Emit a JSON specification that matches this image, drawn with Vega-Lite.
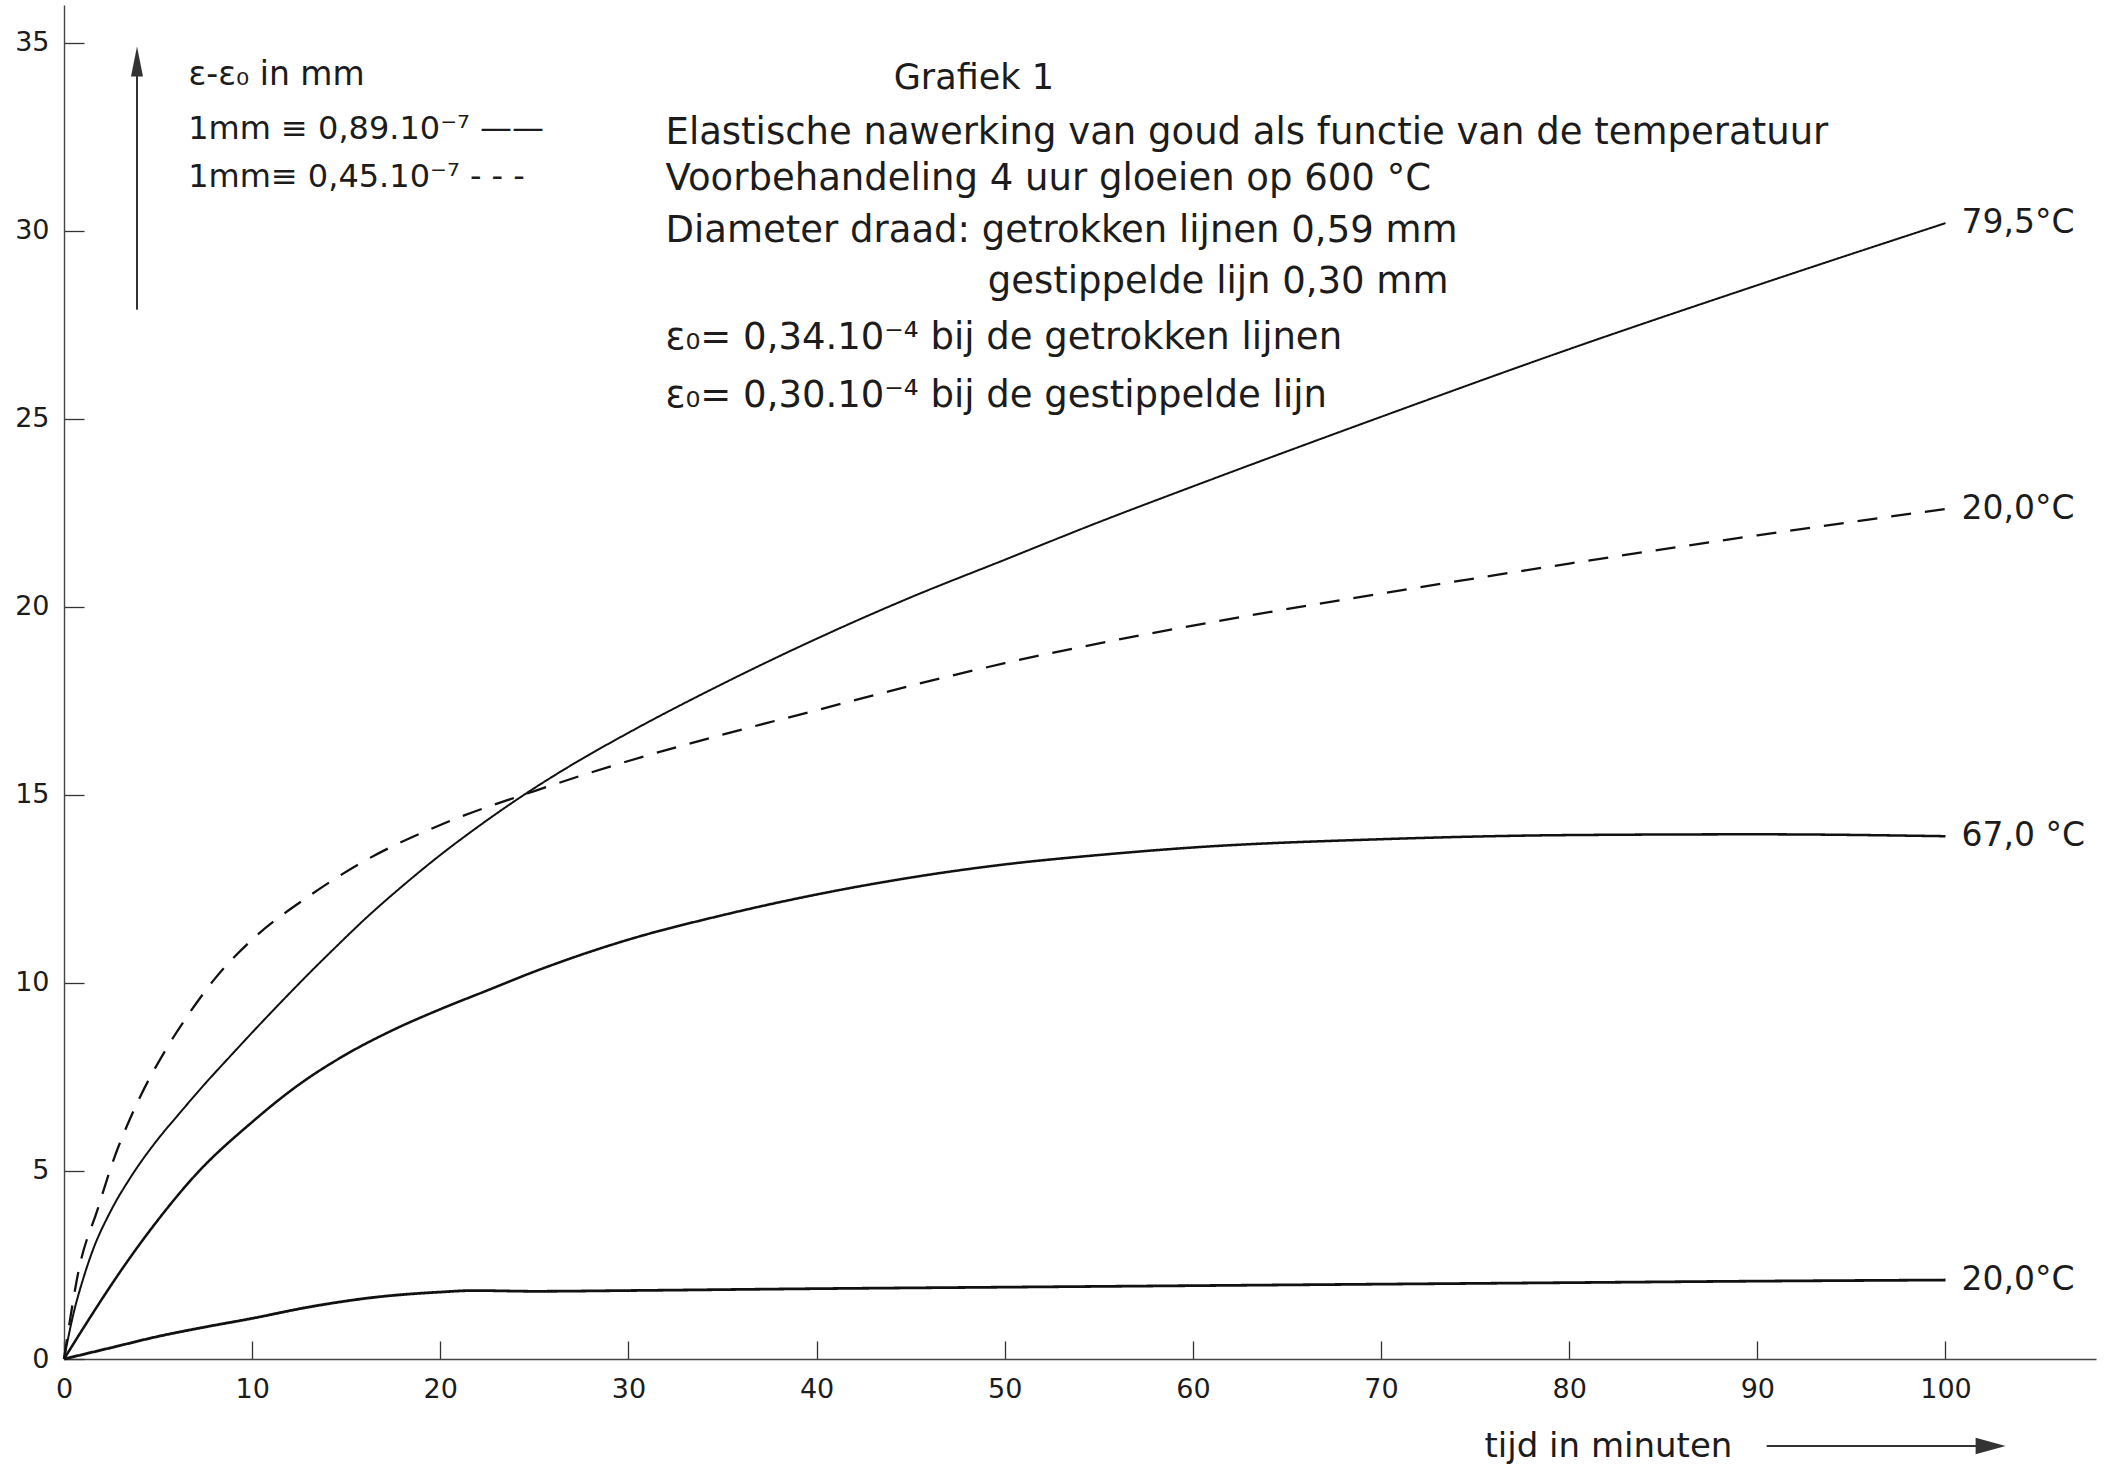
{
  "$schema": "https://vega.github.io/schema/vega-lite/v6.json",
  "width": 2032,
  "height": 1354,
  "autosize": {"type": "none"},
  "padding": {"left": 64, "top": 5, "right": 10, "bottom": 111},
  "background": "white",
  "config": {
    "view": {"stroke": null},
    "font": "DejaVu Sans",
    "text": {"font": "DejaVu Sans", "color": "#1c1c1c", "fontWeight": "normal"}
  },
  "datasets": {
    "krommen": [
      {"lijn": "79,5 getrokken", "temperatuur": "79,5°C", "t": 0, "v": 0},
      {"lijn": "79,5 getrokken", "temperatuur": "79,5°C", "t": 0.5, "v": 1.2},
      {"lijn": "79,5 getrokken", "temperatuur": "79,5°C", "t": 1, "v": 2.1},
      {"lijn": "79,5 getrokken", "temperatuur": "79,5°C", "t": 1.5, "v": 2.85},
      {"lijn": "79,5 getrokken", "temperatuur": "79,5°C", "t": 2.5, "v": 3.95},
      {"lijn": "79,5 getrokken", "temperatuur": "79,5°C", "t": 3.5, "v": 4.8},
      {"lijn": "79,5 getrokken", "temperatuur": "79,5°C", "t": 5, "v": 5.85},
      {"lijn": "79,5 getrokken", "temperatuur": "79,5°C", "t": 6, "v": 6.45},
      {"lijn": "79,5 getrokken", "temperatuur": "79,5°C", "t": 7.5, "v": 7.32},
      {"lijn": "79,5 getrokken", "temperatuur": "79,5°C", "t": 9, "v": 8.14},
      {"lijn": "79,5 getrokken", "temperatuur": "79,5°C", "t": 10, "v": 8.68},
      {"lijn": "79,5 getrokken", "temperatuur": "79,5°C", "t": 11.5, "v": 9.47},
      {"lijn": "79,5 getrokken", "temperatuur": "79,5°C", "t": 13, "v": 10.24},
      {"lijn": "79,5 getrokken", "temperatuur": "79,5°C", "t": 14.5, "v": 10.98},
      {"lijn": "79,5 getrokken", "temperatuur": "79,5°C", "t": 16, "v": 11.7},
      {"lijn": "79,5 getrokken", "temperatuur": "79,5°C", "t": 18, "v": 12.58},
      {"lijn": "79,5 getrokken", "temperatuur": "79,5°C", "t": 20, "v": 13.4},
      {"lijn": "79,5 getrokken", "temperatuur": "79,5°C", "t": 22, "v": 14.15},
      {"lijn": "79,5 getrokken", "temperatuur": "79,5°C", "t": 24, "v": 14.85},
      {"lijn": "79,5 getrokken", "temperatuur": "79,5°C", "t": 27, "v": 15.8},
      {"lijn": "79,5 getrokken", "temperatuur": "79,5°C", "t": 30, "v": 16.65},
      {"lijn": "79,5 getrokken", "temperatuur": "79,5°C", "t": 35, "v": 17.95},
      {"lijn": "79,5 getrokken", "temperatuur": "79,5°C", "t": 40, "v": 19.15},
      {"lijn": "79,5 getrokken", "temperatuur": "79,5°C", "t": 45, "v": 20.25},
      {"lijn": "79,5 getrokken", "temperatuur": "79,5°C", "t": 50, "v": 21.25},
      {"lijn": "79,5 getrokken", "temperatuur": "79,5°C", "t": 55, "v": 22.25},
      {"lijn": "79,5 getrokken", "temperatuur": "79,5°C", "t": 60, "v": 23.2},
      {"lijn": "79,5 getrokken", "temperatuur": "79,5°C", "t": 70, "v": 25.05},
      {"lijn": "79,5 getrokken", "temperatuur": "79,5°C", "t": 80, "v": 26.85},
      {"lijn": "79,5 getrokken", "temperatuur": "79,5°C", "t": 90, "v": 28.55},
      {"lijn": "79,5 getrokken", "temperatuur": "79,5°C", "t": 100, "v": 30.2},

      {"lijn": "20,0 gestippeld", "temperatuur": "20,0°C", "t": 0, "v": 0},
      {"lijn": "20,0 gestippeld", "temperatuur": "20,0°C", "t": 0.8, "v": 2.4},
      {"lijn": "20,0 gestippeld", "temperatuur": "20,0°C", "t": 1.8, "v": 4.0},
      {"lijn": "20,0 gestippeld", "temperatuur": "20,0°C", "t": 2.6, "v": 5.25},
      {"lijn": "20,0 gestippeld", "temperatuur": "20,0°C", "t": 3.7, "v": 6.6},
      {"lijn": "20,0 gestippeld", "temperatuur": "20,0°C", "t": 5.5, "v": 8.3},
      {"lijn": "20,0 gestippeld", "temperatuur": "20,0°C", "t": 6.6, "v": 9.15},
      {"lijn": "20,0 gestippeld", "temperatuur": "20,0°C", "t": 8, "v": 10.1},
      {"lijn": "20,0 gestippeld", "temperatuur": "20,0°C", "t": 10, "v": 11.15},
      {"lijn": "20,0 gestippeld", "temperatuur": "20,0°C", "t": 13, "v": 12.3},
      {"lijn": "20,0 gestippeld", "temperatuur": "20,0°C", "t": 16, "v": 13.25},
      {"lijn": "20,0 gestippeld", "temperatuur": "20,0°C", "t": 20, "v": 14.2},
      {"lijn": "20,0 gestippeld", "temperatuur": "20,0°C", "t": 25, "v": 15.1},
      {"lijn": "20,0 gestippeld", "temperatuur": "20,0°C", "t": 30, "v": 15.9},
      {"lijn": "20,0 gestippeld", "temperatuur": "20,0°C", "t": 35, "v": 16.6},
      {"lijn": "20,0 gestippeld", "temperatuur": "20,0°C", "t": 40, "v": 17.25},
      {"lijn": "20,0 gestippeld", "temperatuur": "20,0°C", "t": 45, "v": 17.9},
      {"lijn": "20,0 gestippeld", "temperatuur": "20,0°C", "t": 50, "v": 18.5},
      {"lijn": "20,0 gestippeld", "temperatuur": "20,0°C", "t": 60, "v": 19.5},
      {"lijn": "20,0 gestippeld", "temperatuur": "20,0°C", "t": 70, "v": 20.35},
      {"lijn": "20,0 gestippeld", "temperatuur": "20,0°C", "t": 80, "v": 21.15},
      {"lijn": "20,0 gestippeld", "temperatuur": "20,0°C", "t": 90, "v": 21.9},
      {"lijn": "20,0 gestippeld", "temperatuur": "20,0°C", "t": 100, "v": 22.6},

      {"lijn": "67,0 getrokken", "temperatuur": "67,0 °C", "t": 0, "v": 0},
      {"lijn": "67,0 getrokken", "temperatuur": "67,0 °C", "t": 1, "v": 0.8},
      {"lijn": "67,0 getrokken", "temperatuur": "67,0 °C", "t": 2, "v": 1.58},
      {"lijn": "67,0 getrokken", "temperatuur": "67,0 °C", "t": 3, "v": 2.33},
      {"lijn": "67,0 getrokken", "temperatuur": "67,0 °C", "t": 5, "v": 3.7},
      {"lijn": "67,0 getrokken", "temperatuur": "67,0 °C", "t": 7, "v": 4.9},
      {"lijn": "67,0 getrokken", "temperatuur": "67,0 °C", "t": 10, "v": 6.3},
      {"lijn": "67,0 getrokken", "temperatuur": "67,0 °C", "t": 12.5, "v": 7.3},
      {"lijn": "67,0 getrokken", "temperatuur": "67,0 °C", "t": 15, "v": 8.1},
      {"lijn": "67,0 getrokken", "temperatuur": "67,0 °C", "t": 17.5, "v": 8.75},
      {"lijn": "67,0 getrokken", "temperatuur": "67,0 °C", "t": 20, "v": 9.3},
      {"lijn": "67,0 getrokken", "temperatuur": "67,0 °C", "t": 22.5, "v": 9.8},
      {"lijn": "67,0 getrokken", "temperatuur": "67,0 °C", "t": 25, "v": 10.3},
      {"lijn": "67,0 getrokken", "temperatuur": "67,0 °C", "t": 30, "v": 11.15},
      {"lijn": "67,0 getrokken", "temperatuur": "67,0 °C", "t": 35, "v": 11.8},
      {"lijn": "67,0 getrokken", "temperatuur": "67,0 °C", "t": 40, "v": 12.35},
      {"lijn": "67,0 getrokken", "temperatuur": "67,0 °C", "t": 45, "v": 12.8},
      {"lijn": "67,0 getrokken", "temperatuur": "67,0 °C", "t": 50, "v": 13.15},
      {"lijn": "67,0 getrokken", "temperatuur": "67,0 °C", "t": 55, "v": 13.4},
      {"lijn": "67,0 getrokken", "temperatuur": "67,0 °C", "t": 60, "v": 13.6},
      {"lijn": "67,0 getrokken", "temperatuur": "67,0 °C", "t": 70, "v": 13.82},
      {"lijn": "67,0 getrokken", "temperatuur": "67,0 °C", "t": 80, "v": 13.93},
      {"lijn": "67,0 getrokken", "temperatuur": "67,0 °C", "t": 90, "v": 13.95},
      {"lijn": "67,0 getrokken", "temperatuur": "67,0 °C", "t": 100, "v": 13.9},

      {"lijn": "20,0 getrokken", "temperatuur": "20,0°C", "t": 0, "v": 0},
      {"lijn": "20,0 getrokken", "temperatuur": "20,0°C", "t": 2.5, "v": 0.3},
      {"lijn": "20,0 getrokken", "temperatuur": "20,0°C", "t": 5, "v": 0.6},
      {"lijn": "20,0 getrokken", "temperatuur": "20,0°C", "t": 7.5, "v": 0.85},
      {"lijn": "20,0 getrokken", "temperatuur": "20,0°C", "t": 10, "v": 1.08},
      {"lijn": "20,0 getrokken", "temperatuur": "20,0°C", "t": 13, "v": 1.38},
      {"lijn": "20,0 getrokken", "temperatuur": "20,0°C", "t": 16.5, "v": 1.64},
      {"lijn": "20,0 getrokken", "temperatuur": "20,0°C", "t": 20, "v": 1.78},
      {"lijn": "20,0 getrokken", "temperatuur": "20,0°C", "t": 21.8, "v": 1.82},
      {"lijn": "20,0 getrokken", "temperatuur": "20,0°C", "t": 25, "v": 1.8},
      {"lijn": "20,0 getrokken", "temperatuur": "20,0°C", "t": 30, "v": 1.82},
      {"lijn": "20,0 getrokken", "temperatuur": "20,0°C", "t": 40, "v": 1.87},
      {"lijn": "20,0 getrokken", "temperatuur": "20,0°C", "t": 50, "v": 1.91},
      {"lijn": "20,0 getrokken", "temperatuur": "20,0°C", "t": 60, "v": 1.95},
      {"lijn": "20,0 getrokken", "temperatuur": "20,0°C", "t": 70, "v": 1.99},
      {"lijn": "20,0 getrokken", "temperatuur": "20,0°C", "t": 80, "v": 2.03},
      {"lijn": "20,0 getrokken", "temperatuur": "20,0°C", "t": 90, "v": 2.07},
      {"lijn": "20,0 getrokken", "temperatuur": "20,0°C", "t": 100, "v": 2.1}
    ]
  },
  "layer": [
    {
      "data": {"name": "krommen"},
      "mark": {"type": "line", "interpolate": "monotone", "color": "#111111", "strokeCap": "butt"},
      "encoding": {
        "x": {
          "field": "t", "type": "quantitative",
          "scale": {"domain": [0, 108], "nice": false, "zero": false},
          "axis": {
            "values": [0, 10, 20, 30, 40, 50, 60, 70, 80, 90, 100],
            "grid": false, "tickSize": -18, "tickWidth": 1.3, "tickColor": "#333333",
            "domainColor": "#444444", "domainWidth": 1.4,
            "labelPadding": 35, "labelFontSize": 27, "labelFont": "DejaVu Sans", "labelColor": "#1c1c1c",
            "labelFlush": false, "labelOverlap": false,
            "title": "tijd in minuten", "titleFont": "DejaVu Sans", "titleFontSize": 34, "titleFontWeight": "normal",
            "titleColor": "#1c1c1c", "titleAlign": "left", "titleBaseline": "middle", "titleX": 1420, "titleY": 87
          }
        },
        "y": {
          "field": "v", "type": "quantitative",
          "scale": {"domain": [0, 36], "nice": false, "zero": false},
          "axis": {
            "values": [0, 5, 10, 15, 20, 25, 30, 35],
            "grid": false, "tickSize": -20, "tickWidth": 1.3, "tickColor": "#333333",
            "domainColor": "#444444", "domainWidth": 1.4,
            "labelPadding": 35, "labelFontSize": 27, "labelFont": "DejaVu Sans", "labelColor": "#1c1c1c",
            "labelFlush": false, "labelOverlap": false,
            "title": "ε-ε₀ in mm", "titleFont": "DejaVu Sans", "titleFontSize": 33, "titleFontWeight": "normal",
            "titleColor": "#1c1c1c", "titleAngle": 0, "titleAlign": "left", "titleBaseline": "middle",
            "titleX": 124, "titleY": 69
          }
        },
        "detail": {"field": "lijn", "type": "nominal"},
        "strokeWidth": {
          "field": "lijn", "type": "nominal", "legend": null,
          "scale": {"domain": ["79,5 getrokken", "20,0 gestippeld", "67,0 getrokken", "20,0 getrokken"], "range": [2, 2.8, 3, 3.5]}
        },
        "strokeDash": {
          "field": "lijn", "type": "nominal", "legend": null,
          "scale": {"domain": ["79,5 getrokken", "20,0 gestippeld", "67,0 getrokken", "20,0 getrokken"], "range": [[1, 0], [20, 14], [1, 0], [1, 0]]}
        }
      }
    },
    {
      "data": {"name": "krommen"},
      "transform": [{"filter": "datum.t == 100"}],
      "mark": {"type": "text", "align": "left", "baseline": "middle", "dx": 16, "fontSize": 33},
      "encoding": {
        "x": {"field": "t", "type": "quantitative"},
        "y": {"field": "v", "type": "quantitative"},
        "text": {"field": "temperatuur"}
      }
    },
    {
      "data": {"values": [{}]},
      "mark": {"type": "text", "align": "left", "baseline": "middle", "fontSize": 35},
      "encoding": {
        "x": {"datum": 44.1, "type": "quantitative"},
        "y": {"datum": 34.07, "type": "quantitative"},
        "text": {"value": "Grafiek 1"}
      }
    },
    {
      "data": {"values": [{}]},
      "mark": {"type": "text", "align": "left", "baseline": "middle", "fontSize": 37},
      "encoding": {
        "x": {"datum": 31.97, "type": "quantitative"},
        "y": {"datum": 32.6, "type": "quantitative"},
        "text": {"value": "Elastische nawerking van goud als functie van de temperatuur"}
      }
    },
    {
      "data": {"values": [{}]},
      "mark": {"type": "text", "align": "left", "baseline": "middle", "fontSize": 37},
      "encoding": {
        "x": {"datum": 31.97, "type": "quantitative"},
        "y": {"datum": 31.38, "type": "quantitative"},
        "text": {"value": "Voorbehandeling  4 uur gloeien op 600 °C"}
      }
    },
    {
      "data": {"values": [{}]},
      "mark": {"type": "text", "align": "left", "baseline": "middle", "fontSize": 37},
      "encoding": {
        "x": {"datum": 31.97, "type": "quantitative"},
        "y": {"datum": 30.0, "type": "quantitative"},
        "text": {"value": "Diameter draad: getrokken lijnen 0,59 mm"}
      }
    },
    {
      "data": {"values": [{}]},
      "mark": {"type": "text", "align": "left", "baseline": "middle", "fontSize": 37},
      "encoding": {
        "x": {"datum": 49.1, "type": "quantitative"},
        "y": {"datum": 28.64, "type": "quantitative"},
        "text": {"value": "gestippelde lijn 0,30 mm"}
      }
    },
    {
      "data": {"values": [{}]},
      "mark": {"type": "text", "align": "left", "baseline": "middle", "fontSize": 37},
      "encoding": {
        "x": {"datum": 31.97, "type": "quantitative"},
        "y": {"datum": 27.15, "type": "quantitative"},
        "text": {"value": "ε₀= 0,34.10⁻⁴ bij de getrokken lijnen"}
      }
    },
    {
      "data": {"values": [{}]},
      "mark": {"type": "text", "align": "left", "baseline": "middle", "fontSize": 37},
      "encoding": {
        "x": {"datum": 31.97, "type": "quantitative"},
        "y": {"datum": 25.6, "type": "quantitative"},
        "text": {"value": "ε₀= 0,30.10⁻⁴ bij de gestippelde lijn"}
      }
    },
    {
      "data": {"values": [{}]},
      "mark": {"type": "text", "align": "left", "baseline": "middle", "fontSize": 32},
      "encoding": {
        "x": {"datum": 6.6, "type": "quantitative"},
        "y": {"datum": 32.69, "type": "quantitative"},
        "text": {"value": "1mm ≡ 0,89.10⁻⁷ ——"}
      }
    },
    {
      "data": {"values": [{}]},
      "mark": {"type": "text", "align": "left", "baseline": "middle", "fontSize": 32},
      "encoding": {
        "x": {"datum": 6.6, "type": "quantitative"},
        "y": {"datum": 31.44, "type": "quantitative"},
        "text": {"value": "1mm≡ 0,45.10⁻⁷ - - -"}
      }
    },
    {
      "data": {"values": [{}]},
      "mark": {"type": "rule", "color": "#333333", "strokeWidth": 2},
      "encoding": {
        "x": {"datum": 3.88, "type": "quantitative"},
        "y": {"datum": 27.9, "type": "quantitative"},
        "y2": {"datum": 34.2}
      }
    },
    {
      "data": {"values": [{}]},
      "mark": {"type": "point", "shape": "M-0.4,1L0,-1L0.4,1Z", "size": 900, "filled": true, "color": "#333333", "opacity": 1},
      "encoding": {
        "x": {"datum": 3.88, "type": "quantitative"},
        "y": {"datum": 34.5, "type": "quantitative"}
      }
    },
    {
      "data": {"values": [{}]},
      "mark": {"type": "rule", "color": "#333333", "strokeWidth": 2},
      "encoding": {
        "x": {"datum": 90.5, "type": "quantitative"},
        "x2": {"datum": 101.8},
        "y": {"datum": -2.31, "type": "quantitative"}
      }
    },
    {
      "data": {"values": [{}]},
      "mark": {"type": "point", "shape": "M-1,-0.55L1,0L-1,0.55Z", "size": 900, "filled": true, "color": "#333333", "opacity": 1},
      "encoding": {
        "x": {"datum": 102.4, "type": "quantitative"},
        "y": {"datum": -2.31, "type": "quantitative"}
      }
    }
  ]
}
